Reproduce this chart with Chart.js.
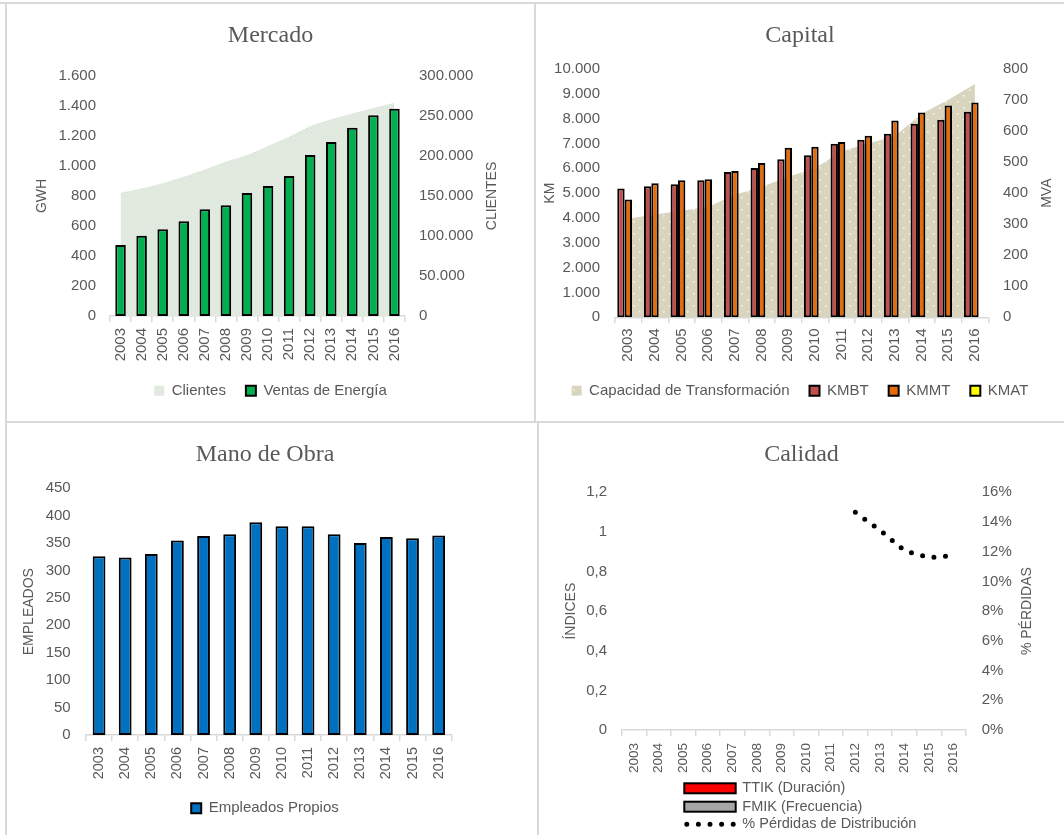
<!DOCTYPE html>
<html>
<head>
<meta charset="utf-8">
<title>Indicadores</title>
<script src="https://cdn.jsdelivr.net/npm/chart.js@4.4.1/dist/chart.umd.min.js"></script>
<style>
  html, body { margin: 0; padding: 0; background: #fff; }
  body { width: 1064px; height: 835px; position: relative; overflow: hidden; }
  .rule { position: absolute; background: #d9d9d9; }
  canvas { position: absolute; }
</style>
</head>
<body>
<div class="rule" style="left:0;top:2px;width:1064px;height:2px"></div>
<div class="rule" style="left:5px;top:2px;width:2px;height:833px"></div>
<div class="rule" style="left:534px;top:2px;width:2px;height:420px"></div>
<div class="rule" style="left:5px;top:421px;width:1059px;height:2px"></div>
<div class="rule" style="left:537px;top:421px;width:2px;height:414px"></div>

<canvas id="mercado" width="527" height="417" style="left:7px;top:4px"></canvas>
<canvas id="capital" width="528" height="417" style="left:536px;top:4px"></canvas>
<canvas id="mano" width="516" height="412" style="left:7px;top:423px"></canvas>
<canvas id="calidad" width="525" height="412" style="left:539px;top:423px"></canvas>

<script>
// ---- data ----
const years = ['2003', '2004', '2005', '2006', '2007', '2008', '2009', '2010', '2011', '2012', '2013', '2014', '2015', '2016'];

// Mercado
const energySales = [473, 535, 578, 631, 711, 738, 820, 867, 933, 1073, 1160, 1255, 1338, 1382];          // GWH
const customers = [154000, 159500, 166000, 174000, 183000, 193000, 201000, 212500, 224000, 237500, 246000, 253000, 260000, 266500];

// Capital
const kmbt = [5190, 5280, 5360, 5520, 5850, 6010, 6370, 6530, 6990, 7150, 7390, 7790, 7960, 8280];
const kmmt = [4740, 5400, 5520, 5560, 5890, 6210, 6830, 6870, 7060, 7310, 7930, 8250, 8530, 8650];
const kmat = [null, null, null, null, null, null, null, null, null, null, null, null, null, null];
const capacity = [318, 331, 343, 356, 395, 421, 453, 480, 535, 560, 584, 656, 701, 752];                 // MVA

// Mano de Obra
const employees = [326, 324, 330, 355, 363, 366, 388, 381, 381, 366, 350, 361, 359, 364];

// Calidad
const ttik = [null, null, null, null, null, null, null, null, null, null, null, null, null, null];
const fmik = [null, null, null, null, null, null, null, null, null, null, null, null, null, null];
const losses = [null, null, null, null, null, null, null, null, null, 0.1465, 0.1346, 0.1207, 0.1160, 0.1175];

// ---- styling helpers ----
const TXT = '#595959';
const AXIS = '#d9d9d9';
const TITLE_SIZE = 24;
const TITLE_LH = TITLE_SIZE * 1.2;

Chart.defaults.font.family = '"Liberation Sans", Arial, sans-serif';
Chart.defaults.font.size = 15;
Chart.defaults.color = TXT;
Chart.defaults.animation = false;

const thousands = v => String(v).replace(/\B(?=(\d{3})+(?!\d))/g, '.');
const decimalComma = v => String(Math.round(v * 10) / 10).replace('.', ',');
const percent = v => Math.round(v * 100) + '%';

function tilePattern(size, base, dots) {
  const c = document.createElement('canvas');
  c.width = c.height = size;
  const g = c.getContext('2d');
  g.fillStyle = base;
  g.fillRect(0, 0, size, size);
  dots.forEach(d => { g.fillStyle = d[2]; g.fillRect(d[0], d[1], d[3], d[3]); });
  return g.createPattern(c, 'repeat');
}
const customersFill = tilePattern(4, '#e3ebe0', [[0, 0, '#d3e0e2', 1], [2, 2, '#d6e4d2', 1]]);
const capacityFill = tilePattern(12, '#d9d4be', [[1, 1, '#f5f3eb', 1.6], [7, 7, '#f5f3eb', 1.6]]);

// box sizes that put the plot area, title and legend where they belong
function frame(W, H, area, titleY, legendY, legendPad) {
  const f = {
    titlePad: { top: titleY - TITLE_LH / 2, bottom: area.t - titleY - TITLE_LH / 2 },
    leftW: area.l,
    rightW: W - area.r,
    padBottom: 0,
    xH: H - area.b
  };
  if (legendY != null) {
    const ih = 15;
    const legTop = legendY - legendPad - ih / 2;
    f.padBottom = H - (legTop + ih + legendPad + 10);
    f.xH = legTop - area.b;
  }
  return f;
}

function xScale(fontSize, pad, height) {
  return {
    type: 'category',
    offset: true,
    grid: { display: true, offset: true, drawOnChartArea: false, drawTicks: true, tickLength: 6, color: AXIS, lineWidth: 1.5 },
    border: { display: true, color: AXIS, width: 1.5 },
    ticks: { autoSkip: false, minRotation: 90, maxRotation: 90, padding: pad, color: TXT, font: { size: fontSize } },
    afterFit: s => { s.height = height; }
  };
}

function yScale(position, min, max, step, fmt, pad, width) {
  return {
    position, min, max,
    ticks: { stepSize: step, callback: fmt, padding: pad, color: TXT, font: { size: 15 } },
    grid: { display: false, drawTicks: false },
    border: { display: false },
    afterFit: s => { s.width = width; }
  };
}

function titleOpts(text, f) {
  return {
    display: true, text, color: TXT,
    font: { family: '"Liberation Serif", "Times New Roman", serif', size: TITLE_SIZE, weight: 'normal', lineHeight: 1.2 },
    padding: f.titlePad
  };
}

function legendOpts(pad) {
  return {
    display: true, position: 'bottom',
    labels: {
      color: TXT, font: { size: 15 }, boxWidth: 10, boxHeight: 10, padding: pad,
      sort: (a, b) => a.datasetIndex - b.datasetIndex
    }
  };
}

// rotated axis captions, read bottom to top on both sides
const sideTitles = {
  id: 'sideTitles',
  afterDraw(chart, args, opts) {
    const { ctx, chartArea } = chart;
    const yc = (chartArea.top + chartArea.bottom) / 2;
    ctx.save();
    ctx.font = '14px "Liberation Sans", Arial, sans-serif';
    ctx.fillStyle = TXT;
    ctx.textAlign = 'center';
    ctx.textBaseline = 'middle';
    (opts.items || []).forEach(it => {
      ctx.save();
      ctx.translate(it.x, yc);
      ctx.rotate(-Math.PI / 2);
      ctx.fillText(it.text, 0, 0);
      ctx.restore();
    });
    ctx.restore();
  }
};

// legend stacked in rows, one entry per dataset
const stackedLegend = {
  id: 'stackedLegend',
  afterDraw(chart, args, opts) {
    const { ctx } = chart;
    ctx.save();
    ctx.font = opts.font;
    ctx.textBaseline = 'middle';
    ctx.textAlign = 'left';
    chart.data.datasets.forEach((ds, i) => {
      const y = opts.rows[i];
      if (ds.type === 'line') {
        ctx.save();
        ctx.strokeStyle = ds.borderColor;
        ctx.lineWidth = ds.borderWidth;
        ctx.lineCap = ds.borderCapStyle;
        ctx.setLineDash(ds.borderDash);
        ctx.beginPath();
        ctx.moveTo(opts.boxX + 2.5, y);
        ctx.lineTo(opts.boxX + opts.boxW, y);
        ctx.stroke();
        ctx.restore();
      } else {
        ctx.fillStyle = ds.backgroundColor;
        ctx.fillRect(opts.boxX, y - opts.boxH / 2, opts.boxW, opts.boxH);
        ctx.lineWidth = ds.borderWidth;
        ctx.strokeStyle = ds.borderColor;
        ctx.strokeRect(opts.boxX, y - opts.boxH / 2, opts.boxW, opts.boxH);
      }
      ctx.fillStyle = TXT;
      ctx.fillText(ds.label, opts.textX, y);
    });
    ctx.restore();
  }
};

const barStyle = { borderColor: '#000000', borderWidth: 2, borderSkipped: false, order: 1 };

// ---- Mercado ----
(function () {
  const W = 527, H = 417;
  const f = frame(W, H, { l: 103, r: 398, t: 72, b: 312 }, 32, 386.7, 20);
  new Chart(document.getElementById('mercado'), {
    type: 'bar',
    data: {
      labels: years,
      datasets: [
        { type: 'line', label: 'Clientes', data: customers, yAxisID: 'y2', fill: 'origin',
          backgroundColor: customersFill, borderColor: 'transparent', borderWidth: 0, pointRadius: 0, tension: 0, order: 2 },
        Object.assign({ label: 'Ventas de Energía', data: energySales, yAxisID: 'y',
          backgroundColor: '#00b050', categoryPercentage: 0.5, barPercentage: 1 }, barStyle)
      ]
    },
    options: {
      responsive: false,
      layout: { padding: { left: 0, right: 0, top: 0, bottom: f.padBottom } },
      scales: {
        x: xScale(15, 6, f.xH),
        y: yScale('left', 0, 1600, 200, thousands, 14, f.leftW),
        y2: yScale('right', 0, 300000, 50000, thousands, 14, f.rightW)
      },
      plugins: {
        title: titleOpts('Mercado', f),
        legend: legendOpts(20),
        tooltip: { enabled: false },
        sideTitles: { items: [{ text: 'GWH', x: 35.5 }, { text: 'CLIENTES', x: 484.7 }] }
      }
    },
    plugins: [sideTitles]
  });
})();

// ---- Capital ----
(function () {
  const W = 528, H = 417;
  const f = frame(W, H, { l: 79, r: 452.3, t: 65, b: 313.3 }, 32, 386.7, 20);
  const bar = (label, data, color) => Object.assign({ label, data, yAxisID: 'y', backgroundColor: color,
    categoryPercentage: 0.83, barPercentage: 1 }, barStyle);
  new Chart(document.getElementById('capital'), {
    type: 'bar',
    data: {
      labels: years,
      datasets: [
        { type: 'line', label: 'Capacidad de Transformación', data: capacity, yAxisID: 'y2', fill: 'origin',
          backgroundColor: capacityFill, borderColor: 'transparent', borderWidth: 0, pointRadius: 0, tension: 0, order: 2 },
        bar('KMBT', kmbt, '#c0504d'),
        bar('KMMT', kmmt, '#e46c0a'),
        bar('KMAT', kmat, '#ffff00')
      ]
    },
    options: {
      responsive: false,
      layout: { padding: { left: 0, right: 0, top: 0, bottom: f.padBottom } },
      scales: {
        x: xScale(15, 5, f.xH),
        y: yScale('left', 0, 10000, 1000, thousands, 15, f.leftW),
        y2: yScale('right', 0, 800, 100, thousands, 14.7, f.rightW)
      },
      plugins: {
        title: titleOpts('Capital', f),
        legend: legendOpts(20),
        tooltip: { enabled: false },
        sideTitles: { items: [{ text: 'KM', x: 14 }, { text: 'MVA', x: 510.7 }] }
      }
    },
    plugins: [sideTitles]
  });
})();

// ---- Mano de Obra ----
(function () {
  const W = 516, H = 412;
  const f = frame(W, H, { l: 79, r: 444.7, t: 65.3, b: 312 }, 32, 385.3, 20);
  const spacer = {
    position: 'right', display: true,
    ticks: { display: false }, grid: { display: false, drawTicks: false }, border: { display: false },
    afterFit: s => { s.width = f.rightW; }
  };
  new Chart(document.getElementById('mano'), {
    type: 'bar',
    data: {
      labels: years,
      datasets: [
        Object.assign({ label: 'Empleados Propios', data: employees, yAxisID: 'y',
          backgroundColor: '#0070c0', categoryPercentage: 0.49, barPercentage: 1 }, barStyle)
      ]
    },
    options: {
      responsive: false,
      layout: { padding: { left: 0, right: 0, top: 0, bottom: f.padBottom } },
      scales: {
        x: xScale(14.5, 6, f.xH),
        y: yScale('left', 0, 450, 50, v => String(v), 15.3, f.leftW),
        yr: spacer
      },
      plugins: {
        title: titleOpts('Mano de Obra', f),
        legend: legendOpts(20),
        tooltip: { enabled: false },
        sideTitles: { items: [{ text: 'EMPLEADOS', x: 22.5 }] }
      }
    },
    plugins: [sideTitles]
  });
})();

// ---- Calidad ----
(function () {
  const W = 525, H = 412;
  const f = frame(W, H, { l: 82.7, r: 427, t: 69.3, b: 307 }, 32, null, 0);
  new Chart(document.getElementById('calidad'), {
    type: 'bar',
    data: {
      labels: years,
      datasets: [
        { label: 'TTIK (Duración)', data: ttik, yAxisID: 'y', backgroundColor: '#ff0000', borderColor: '#000000', borderWidth: 2 },
        { label: 'FMIK (Frecuencia)', data: fmik, yAxisID: 'y', backgroundColor: '#a6a6a6', borderColor: '#000000', borderWidth: 2 },
        { type: 'line', label: '% Pérdidas de Distribución', data: losses, yAxisID: 'y2',
          borderColor: '#000000', borderWidth: 5, borderDash: [0, 11.6], borderCapStyle: 'round',
          pointRadius: 0, tension: 0, fill: false, spanGaps: false }
      ]
    },
    options: {
      responsive: false,
      layout: { padding: { left: 0, right: 0, top: 0, bottom: 0 } },
      scales: {
        x: xScale(13.5, 7, f.xH),
        y: yScale('left', 0, 1.2, 0.2, decimalComma, 14.7, f.leftW),
        y2: yScale('right', 0, 0.16, 0.02, percent, 15.7, f.rightW)
      },
      plugins: {
        title: titleOpts('Calidad', f),
        legend: { display: false },
        tooltip: { enabled: false },
        sideTitles: { items: [{ text: 'ÍNDICES', x: 31.8 }, { text: '% PÉRDIDAS', x: 487.7 }] },
        stackedLegend: {
          font: '14.5px "Liberation Sans", Arial, sans-serif',
          rows: [365.3, 383.7, 401.3], boxX: 145.3, boxW: 51.4, boxH: 10, textX: 203.3
        }
      }
    },
    plugins: [sideTitles, stackedLegend]
  });
})();
</script>
</body>
</html>
